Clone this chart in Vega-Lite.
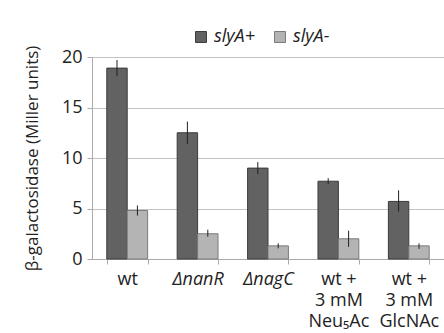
{
  "$schema": "https://vega.github.io/schema/vega-lite/v6.json",
  "width": 352,
  "height": 202,
  "autosize": {"type": "none"},
  "padding": {"left": 92, "top": 57, "right": 0, "bottom": 74},
  "background": "white",
  "config": {
    "font": "Open Sans",
    "view": {"stroke": null},
    "axis": {"labelColor": "#222", "titleColor": "#222", "labelFont": "Open Sans", "titleFont": "Open Sans"}
  },
  "data": {
    "values": [
      {"cat": "wt", "series": "slyA+", "value": 18.9, "lo": 18.1, "hi": 19.7},
      {"cat": "wt", "series": "slyA-", "value": 4.8, "lo": 4.3, "hi": 5.3},
      {"cat": "ΔnanR", "series": "slyA+", "value": 12.5, "lo": 11.4, "hi": 13.6},
      {"cat": "ΔnanR", "series": "slyA-", "value": 2.5, "lo": 2.2, "hi": 2.9},
      {"cat": "ΔnagC", "series": "slyA+", "value": 9.0, "lo": 8.4, "hi": 9.6},
      {"cat": "ΔnagC", "series": "slyA-", "value": 1.3, "lo": 1.05, "hi": 1.55},
      {"cat": "wt +|3 mM|Neu₅Ac", "series": "slyA+", "value": 7.7, "lo": 7.4, "hi": 8.0},
      {"cat": "wt +|3 mM|Neu₅Ac", "series": "slyA-", "value": 2.0, "lo": 1.2, "hi": 2.8},
      {"cat": "wt +|3 mM|GlcNAc", "series": "slyA+", "value": 5.7, "lo": 4.7, "hi": 6.8},
      {"cat": "wt +|3 mM|GlcNAc", "series": "slyA-", "value": 1.3, "lo": 1.0, "hi": 1.55}
    ]
  },
  "encoding": {
    "x": {
      "field": "cat",
      "type": "nominal",
      "sort": ["wt", "ΔnanR", "ΔnagC", "wt +|3 mM|Neu₅Ac", "wt +|3 mM|GlcNAc"],
      "scale": {"paddingInner": 0.42, "paddingOuter": 0.21},
      "axis": {
        "title": null,
        "labelAngle": 0,
        "labelExpr": "split(datum.label, '|')",
        "labelFontSize": 18,
        "labelLineHeight": 21,
        "labelPadding": 6,
        "labelFontStyle": {"condition": {"test": "datum.label == 'ΔnanR' || datum.label == 'ΔnagC'", "value": "italic"}, "value": "normal"},
        "tickBand": "extent",
        "tickColor": "#aaa",
        "tickSize": 5,
        "domainColor": "#aaa",
        "grid": false
      }
    },
    "xOffset": {"field": "series", "type": "nominal", "sort": ["slyA+", "slyA-"], "scale": {"paddingInner": 0}}
  },
  "layer": [
    {
      "mark": {"type": "bar", "strokeWidth": 1},
      "encoding": {
        "y": {
          "field": "value",
          "type": "quantitative",
          "scale": {"domain": [0, 20], "nice": false},
          "axis": {
            "title": "β-galactosidase (Miller units)",
            "titleFontSize": 17,
            "titleFontWeight": "normal",
            "titlePadding": 20,
            "values": [0, 5, 10, 15, 20],
            "labelFontSize": 18,
            "labelPadding": 5,
            "tickSize": 5,
            "tickColor": "#aaa",
            "domainColor": "#aaa",
            "gridColor": "#c4c4c4",
            "gridWidth": 1
          }
        },
        "fill": {
          "field": "series",
          "type": "nominal",
          "sort": ["slyA+", "slyA-"],
          "scale": {"domain": ["slyA+", "slyA-"], "range": ["#626262", "#b4b4b4"]},
          "legend": {
            "title": null,
            "orient": "none",
            "direction": "horizontal",
            "legendX": 100,
            "legendY": -29,
            "labelFontSize": 18,
            "labelFontStyle": "italic",
            "labelColor": "#222",
            "symbolType": "square",
            "symbolSize": 120,
            "symbolStrokeColor": "#444",
            "symbolStrokeWidth": 1,
            "columnPadding": 16,
            "labelOffset": 4
          }
        },
        "stroke": {
          "field": "series",
          "type": "nominal",
          "scale": {"domain": ["slyA+", "slyA-"], "range": ["#3c3c3c", "#7a7a7a"]},
          "legend": null
        }
      }
    },
    {
      "mark": {"type": "rule", "color": "#222", "strokeWidth": 1},
      "encoding": {
        "y": {"field": "lo", "type": "quantitative"},
        "y2": {"field": "hi"}
      }
    }
  ]
}
